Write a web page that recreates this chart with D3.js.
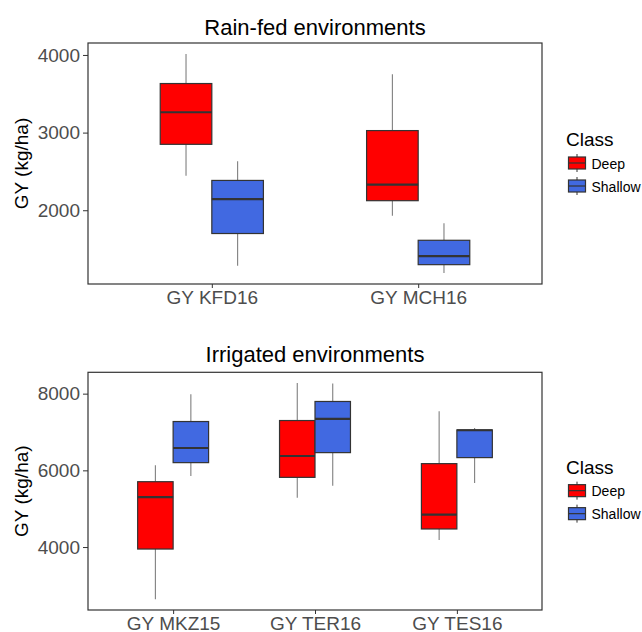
<!DOCTYPE html>
<html>
<head>
<meta charset="utf-8">
<style>
  body { margin: 0; background: #fff; }
  text { font-family: "Liberation Sans", Arial, sans-serif; }
</style>
<script src="https://cdn.jsdelivr.net/npm/d3@7"></script>
</head>
<body>
<script>
// five number summaries: [lower whisker, q1, median, q3, upper whisker]
var classes = ["Deep", "Shallow"];
var classColors = ["#FF0000", "#4169E1"];

var rainEnv = ["GY KFD16", "GY MCH16"];
var rainDeep = [[2445, 2849, 3262, 3632, 4013], [1929, 2123, 2329, 3026, 3752]];
var rainShallow = [[1284, 1700, 2142, 2384, 2630], [1191, 1299, 1410, 1613, 1832]];
var rainTicks = [2000, 3000, 4000];

var irrEnv = ["GY MKZ15", "GY TER16", "GY TES16"];
var irrDeep = [[2640, 3948, 5302, 5704, 6131], [5286, 5817, 6374, 7299, 8275], [4183, 4471, 4843, 6175, 7543]];
var irrShallow = [[5851, 6201, 6583, 7273, 7987], [5600, 6462, 7341, 7796, 8267], [5668, 6332, 7045, 7054, 7106]];
var irrTicks = [4000, 6000, 8000];

var svg = d3.select("body").append("svg")
    .attr("width", 642)
    .attr("height", 632);

function panel(opts) {
  var left = 88, right = 542, top = opts.top, bottom = opts.bottom;
  var g = svg.append("g");

  var all = opts.deep.concat(opts.shallow).flat();
  var lo = d3.min(all), hi = d3.max(all), pad = (hi - lo) * 0.05;
  var y = d3.scaleLinear().domain([lo - pad, hi + pad]).range([bottom, top]);
  var x = d3.scalePoint().domain(opts.env).range([left, right]).padding(0.6);
  var bw = x.step() * 0.25;

  // title
  g.append("text")
    .attr("x", (left + right) / 2)
    .attr("y", opts.titleY)
    .attr("text-anchor", "middle")
    .style("font-size", "22px")
    .text(opts.title);

  var boxes = [];
  opts.env.forEach(function(e, i) {
    boxes.push({env: e, cls: 0, s: opts.deep[i]});
    boxes.push({env: e, cls: 1, s: opts.shallow[i]});
  });

  var bx = g.selectAll("g.box")
    .data(boxes)
    .enter().append("g")
      .attr("class", "box")
      .attr("transform", function(d) { return "translate(" + (x(d.env) + (d.cls - 1) * bw) + ",0)"; });

  bx.append("line")
    .attr("x1", bw / 2).attr("x2", bw / 2)
    .attr("y1", function(d) { return y(d.s[4]); })
    .attr("y2", function(d) { return y(d.s[3]); })
    .attr("stroke", "#7F7F7F").attr("stroke-width", 1.1);
  bx.append("line")
    .attr("x1", bw / 2).attr("x2", bw / 2)
    .attr("y1", function(d) { return y(d.s[1]); })
    .attr("y2", function(d) { return y(d.s[0]); })
    .attr("stroke", "#7F7F7F").attr("stroke-width", 1.1);
  bx.append("rect")
    .attr("x", 0)
    .attr("width", bw)
    .attr("y", function(d) { return y(d.s[3]); })
    .attr("height", function(d) { return y(d.s[1]) - y(d.s[3]); })
    .attr("fill", function(d) { return classColors[d.cls]; })
    .attr("stroke", "#333333").attr("stroke-width", 1.2);
  bx.append("line")
    .attr("x1", 0).attr("x2", bw)
    .attr("y1", function(d) { return y(d.s[2]); })
    .attr("y2", function(d) { return y(d.s[2]); })
    .attr("stroke", "#333333").attr("stroke-width", 2.2);

  // panel border
  g.append("rect")
    .attr("x", left).attr("y", top)
    .attr("width", right - left).attr("height", bottom - top)
    .attr("fill", "none").attr("stroke", "#333333").attr("stroke-width", 1.2);

  var ya = g.append("g")
    .attr("transform", "translate(" + left + ",0)")
    .call(d3.axisLeft(y).tickValues(opts.ticks).tickFormat(d3.format("d")).tickSize(5).tickPadding(3));
  var xa = g.append("g")
    .attr("transform", "translate(0," + bottom + ")")
    .call(d3.axisBottom(x).tickSize(4).tickPadding(3));
  [ya, xa].forEach(function(a) {
    a.select(".domain").remove();
    a.selectAll("line").attr("stroke", "#333333");
    a.selectAll("text")
      .attr("fill", "#4D4D4D")
      .style("font-size", "19px")
      .style("font-family", "'Liberation Sans', Arial, sans-serif");
  });

  g.append("text")
    .attr("transform", "translate(27.5," + (top + bottom) / 2 + ") rotate(-90)")
    .attr("text-anchor", "middle")
    .style("font-size", "19px")
    .text("GY (kg/ha)");

  // legend
  var mid = (top + bottom) / 2;
  var leg = g.append("g").attr("transform", "translate(566," + mid + ")");
  leg.append("text")
    .attr("x", 0).attr("y", -17.5)
    .style("font-size", "19px")
    .text("Class");
  var key = leg.selectAll("g.key")
    .data(classes)
    .enter().append("g")
      .attr("class", "key")
      .attr("transform", function(d, i) { return "translate(0," + (i * 23 - 0.5) + ")"; });
  key.append("line")
    .attr("x1", 11).attr("x2", 11).attr("y1", -9).attr("y2", 9)
    .attr("stroke", "#333333").attr("stroke-width", 1);
  key.append("rect")
    .attr("x", 2.5).attr("y", -6).attr("width", 17).attr("height", 12)
    .attr("fill", function(d, i) { return classColors[i]; })
    .attr("stroke", "#333333").attr("stroke-width", 1.2);
  key.append("line")
    .attr("x1", 2.5).attr("x2", 19.5).attr("y1", 0).attr("y2", 0)
    .attr("stroke", "#333333").attr("stroke-width", 1.2);
  key.append("text")
    .attr("x", 25.5).attr("y", 5.5)
    .style("font-size", "14px")
    .text(function(d) { return d; });
}

panel({title: "Rain-fed environments", titleY: 35, top: 43, bottom: 284,
       env: rainEnv, deep: rainDeep, shallow: rainShallow, ticks: rainTicks});
panel({title: "Irrigated environments", titleY: 362, top: 372.3, bottom: 610,
       env: irrEnv, deep: irrDeep, shallow: irrShallow, ticks: irrTicks});
</script>
</body>
</html>
